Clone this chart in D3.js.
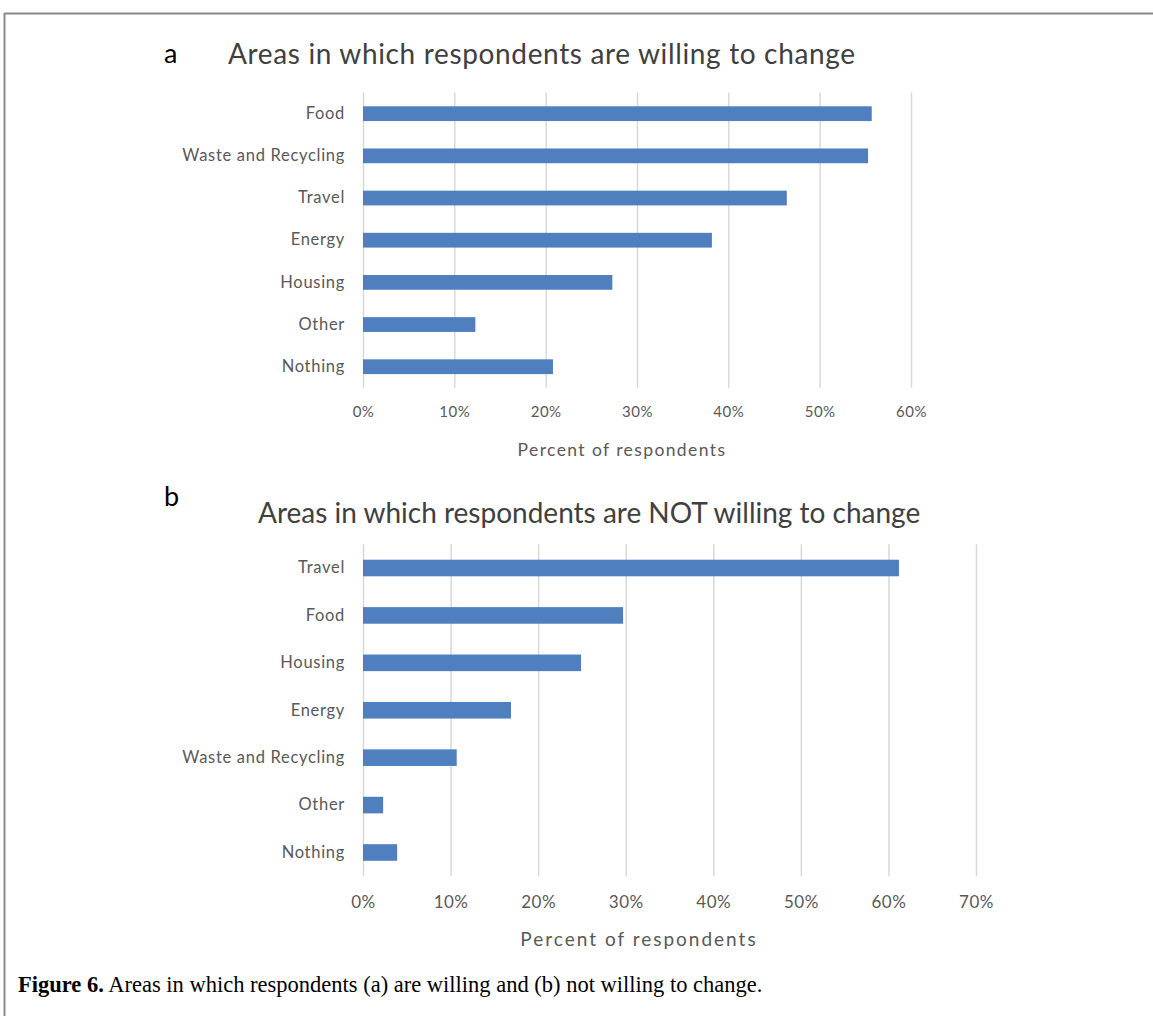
<!DOCTYPE html>
<html>
<head>
<meta charset="utf-8">
<script src="https://cdn.jsdelivr.net/npm/d3@7"></script>
<style>
  html, body { margin: 0; padding: 0; background: #fff; }
  svg { display: block; }
</style>
</head>
<body>
<svg id="chart" width="1153" height="1016"></svg>
<script>
// ---- Data ----
const categoriesA = ["Food", "Waste and Recycling", "Travel", "Energy", "Housing", "Other", "Nothing"];
const valuesA = [0.557, 0.553, 0.464, 0.382, 0.273, 0.123, 0.208];
const ticksA = [0, 0.1, 0.2, 0.3, 0.4, 0.5, 0.6];

const categoriesB = ["Travel", "Food", "Housing", "Energy", "Waste and Recycling", "Other", "Nothing"];
const valuesB = [0.612, 0.297, 0.249, 0.169, 0.107, 0.023, 0.039];
const ticksB = [0, 0.1, 0.2, 0.3, 0.4, 0.5, 0.6, 0.7];

const titleA = "Areas in which respondents are willing to change";
const titleB = "Areas in which respondents are NOT willing to change";
const axisTitle = "Percent of respondents";
const captionBold = "Figure 6.";
const captionText = " Areas in which respondents (a) are willing and (b) not willing to change.";

// ---- Styles ----
const FONT = "Lato, 'Open Sans', sans-serif";
const BAR = "#4F7FBE";
const GRID = "#D9D9D9";
const LABEL = "#595959";
const TITLE = "#404040";

const svg = d3.select("#chart");

// frame
svg.append("line").attr("x1", 4).attr("x2", 1153).attr("y1", 13.5).attr("y2", 13.5)
  .attr("stroke", "#8a8a8a").attr("stroke-width", 2);
svg.append("line").attr("x1", 4.5).attr("x2", 4.5).attr("y1", 13).attr("y2", 1016)
  .attr("stroke", "#8a8a8a").attr("stroke-width", 2);

function panel(cfg) {
  const g = svg.append("g");
  const x = d3.scaleLinear().domain([0, cfg.ticks[cfg.ticks.length - 1]]).range([cfg.x0, cfg.x1]);
  const y = d3.scaleBand().domain(cfg.categories).range([cfg.y0, cfg.y1])
    .paddingInner(0.65).paddingOuter(0.325);

  // gridlines
  const xAxis = d3.axisBottom(x).tickValues(cfg.ticks).tickFormat(d3.format(".0%"))
    .tickSize(-(cfg.y1 - cfg.y0)).tickPadding(cfg.tickPad);
  const ax = g.append("g").attr("transform", `translate(0,${cfg.y1})`).call(xAxis);
  ax.select(".domain").remove();
  ax.selectAll(".tick line").attr("stroke", GRID).attr("stroke-width", 1.5);
  ax.selectAll(".tick text").attr("fill", LABEL).attr("font-family", FONT)
    .attr("font-size", cfg.tickSize).attr("letter-spacing", cfg.tickLs);

  // bars
  g.selectAll("rect.bar").data(cfg.values).join("rect").attr("class", "bar")
    .attr("x", x(0))
    .attr("y", (d, i) => y(cfg.categories[i]))
    .attr("width", d => x(d) - x(0))
    .attr("height", y.bandwidth())
    .attr("fill", BAR);

  // category labels
  const yAxis = d3.axisLeft(y).tickSize(0).tickPadding(18);
  const ay = g.append("g").attr("transform", `translate(${cfg.x0},0)`).call(yAxis);
  ay.select(".domain").remove();
  ay.selectAll(".tick text").attr("fill", LABEL).attr("font-family", FONT)
    .attr("font-size", cfg.catSize).attr("letter-spacing", cfg.catLs);

  // axis title
  g.append("text").attr("x", cfg.axTitleX).attr("y", cfg.axTitleY)
    .attr("text-anchor", "middle").attr("fill", LABEL).attr("font-family", FONT)
    .attr("font-size", cfg.axTitleSize).attr("letter-spacing", cfg.axTitleLs).text(axisTitle);

  // panel letter and title
  g.append("text").attr("x", cfg.letterX).attr("y", cfg.letterY)
    .attr("fill", "#000").attr("font-family", FONT).attr("font-size", 27).text(cfg.letter);
  g.append("text").attr("x", cfg.titleX).attr("y", cfg.titleY)
    .attr("fill", TITLE).attr("font-family", FONT).attr("font-size", cfg.titleSize)
    .attr("letter-spacing", cfg.titleLs).text(cfg.title);
}

panel({
  categories: categoriesA, values: valuesA, ticks: ticksA,
  x0: 363, x1: 911, y0: 92.6, y1: 387.8,
  tickPad: 19, tickSize: 15, tickLs: 0.5, catSize: 16.5, catLs: 0.7,
  axTitleX: 622, axTitleY: 456, axTitleSize: 17.5, axTitleLs: 1.4,
  letter: "a", letterX: 164, letterY: 63,
  title: titleA, titleX: 228, titleY: 64, titleSize: 28, titleLs: 0.65,
});

panel({
  categories: categoriesB, values: valuesB, ticks: ticksB,
  x0: 363, x1: 976, y0: 544.3, y1: 876.2,
  tickPad: 20, tickSize: 17, tickLs: 0.5, catSize: 16.5, catLs: 0.7,
  axTitleX: 639, axTitleY: 946, axTitleSize: 19, axTitleLs: 2,
  letter: "b", letterX: 164, letterY: 506,
  title: titleB, titleX: 258, titleY: 523, titleSize: 28, titleLs: 0,
});

// caption
const cap = svg.append("text").attr("x", 18).attr("y", 992)
  .attr("font-family", "'Liberation Serif', 'Times New Roman', serif").attr("font-size", 22.5).attr("fill", "#000");
cap.append("tspan").attr("font-weight", "bold").text(captionBold);
cap.append("tspan").text(captionText);
</script>
</body>
</html>
